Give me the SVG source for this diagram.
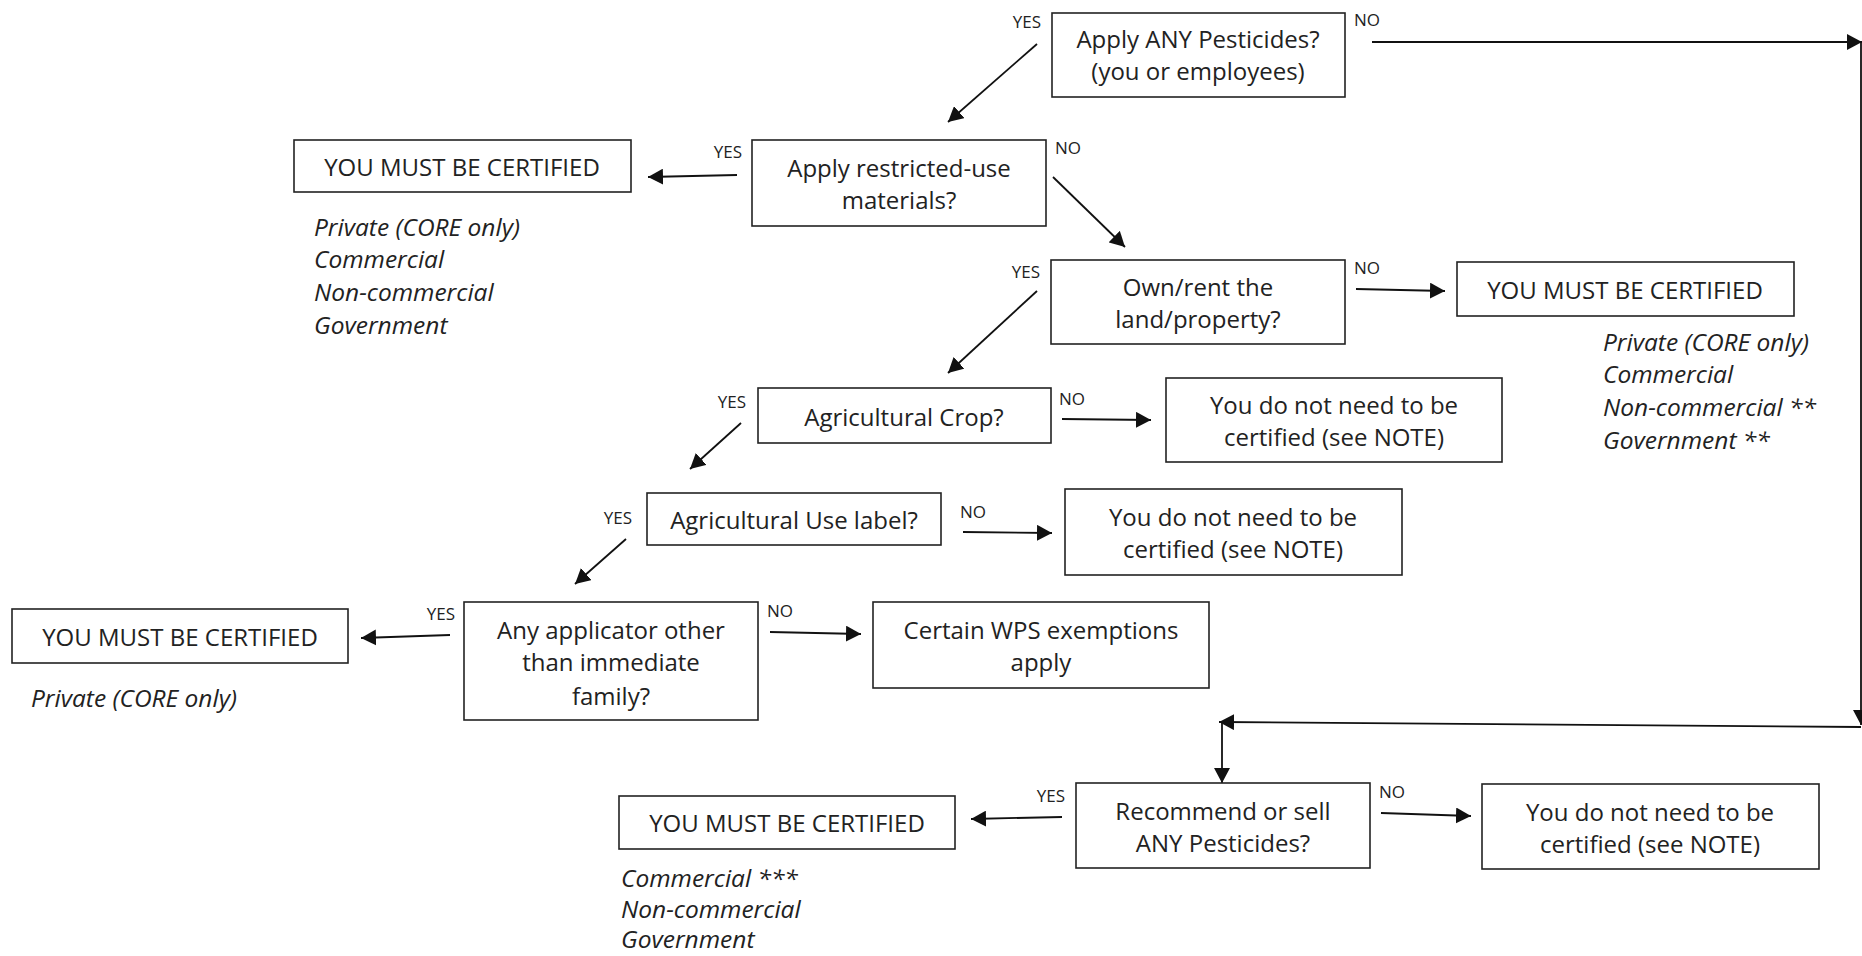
<svg xmlns="http://www.w3.org/2000/svg" width="1862" height="956" viewBox="0 0 1862 956">
<style>
.box{fill:#fff;stroke:#222;stroke-width:1.6}
.t{font-family:"Open Sans",Lato,"Liberation Sans",sans-serif;font-size:24px;fill:#222;text-anchor:middle;dominant-baseline:central}
.it{font-family:"Open Sans",Lato,"Liberation Sans",sans-serif;font-size:24.5px;font-style:italic;fill:#222;dominant-baseline:central}
.lb{font-family:"Open Sans",Lato,"Liberation Sans",sans-serif;font-size:17px;fill:#222;dominant-baseline:central}
.e{text-anchor:end}
.c{fill:none;stroke:#111;stroke-width:1.8}
</style>
<defs>
<marker id="ah" markerUnits="userSpaceOnUse" markerWidth="16" markerHeight="16" refX="15" refY="8" orient="auto">
<path d="M0,0 L15,8 L0,16 z" fill="#111"/>
</marker>
</defs>
<g id="connectors">
<line class="c" x1="1037" y1="44" x2="948" y2="122" marker-end="url(#ah)"/>
<line class="c" x1="1372" y1="42" x2="1862" y2="42" marker-end="url(#ah)"/>
<line class="c" x1="1861" y1="42" x2="1861" y2="725" marker-end="url(#ah)"/>
<line class="c" x1="1861" y1="727" x2="1219" y2="722" marker-end="url(#ah)"/>
<line class="c" x1="1222" y1="722" x2="1222" y2="783" marker-end="url(#ah)"/>
<line class="c" x1="737" y1="175" x2="648" y2="177" marker-end="url(#ah)"/>
<line class="c" x1="1053" y1="177" x2="1125" y2="247" marker-end="url(#ah)"/>
<line class="c" x1="1037" y1="291" x2="948" y2="373" marker-end="url(#ah)"/>
<line class="c" x1="1356" y1="289" x2="1445" y2="291" marker-end="url(#ah)"/>
<line class="c" x1="741" y1="423" x2="690" y2="469" marker-end="url(#ah)"/>
<line class="c" x1="1062" y1="419" x2="1151" y2="420" marker-end="url(#ah)"/>
<line class="c" x1="626" y1="539" x2="575" y2="584" marker-end="url(#ah)"/>
<line class="c" x1="963" y1="532" x2="1052" y2="533" marker-end="url(#ah)"/>
<line class="c" x1="450" y1="635" x2="361" y2="638" marker-end="url(#ah)"/>
<line class="c" x1="770" y1="632" x2="861" y2="634" marker-end="url(#ah)"/>
<line class="c" x1="1062" y1="817" x2="971" y2="819" marker-end="url(#ah)"/>
<line class="c" x1="1381" y1="813" x2="1471" y2="816" marker-end="url(#ah)"/>
</g>
<g id="labels">
<text class="lb e" x="1041" y="21">YES</text>
<text class="lb" x="1354" y="19">NO</text>
<text class="lb e" x="742" y="151">YES</text>
<text class="lb" x="1055" y="147">NO</text>
<text class="lb e" x="1040" y="271">YES</text>
<text class="lb" x="1354" y="267">NO</text>
<text class="lb e" x="746" y="401">YES</text>
<text class="lb" x="1059" y="398">NO</text>
<text class="lb e" x="632" y="517">YES</text>
<text class="lb" x="960" y="511">NO</text>
<text class="lb e" x="455" y="613">YES</text>
<text class="lb" x="767" y="610">NO</text>
<text class="lb e" x="1065" y="795">YES</text>
<text class="lb" x="1379" y="791">NO</text>
</g>
<g id="nodeA">
<rect class="box" x="1052" y="13" width="293" height="84"/>
<text class="t" x="1198" y="38">Apply ANY Pesticides?</text>
<text class="t" x="1198" y="70">(you or employees)</text>
</g>
<g id="nodeB">
<rect class="box" x="752" y="140" width="294" height="86"/>
<text class="t" x="899" y="167">Apply restricted-use</text>
<text class="t" x="899" y="199">materials?</text>
</g>
<g id="nodeC">
<rect class="box" x="294" y="140" width="337" height="52"/>
<text class="t" x="462" y="166">YOU MUST BE CERTIFIED</text>
<text class="it" x="314" y="226">Private (CORE only)</text>
<text class="it" x="314" y="258">Commercial</text>
<text class="it" x="314" y="291">Non-commercial</text>
<text class="it" x="314" y="324">Government</text>
</g>
<g id="nodeD">
<rect class="box" x="1051" y="260" width="294" height="84"/>
<text class="t" x="1198" y="286">Own/rent the</text>
<text class="t" x="1198" y="318">land/property?</text>
</g>
<g id="nodeE">
<rect class="box" x="1457" y="262" width="337" height="54"/>
<text class="t" x="1625" y="289">YOU MUST BE CERTIFIED</text>
<text class="it" x="1603" y="341">Private (CORE only)</text>
<text class="it" x="1603" y="373">Commercial</text>
<text class="it" x="1603" y="406">Non-commercial **</text>
<text class="it" x="1603" y="439">Government **</text>
</g>
<g id="nodeF">
<rect class="box" x="758" y="388" width="293" height="55"/>
<text class="t" x="904" y="416">Agricultural Crop?</text>
</g>
<g id="nodeG">
<rect class="box" x="1166" y="378" width="336" height="84"/>
<text class="t" x="1334" y="404">You do not need to be</text>
<text class="t" x="1334" y="436">certified (see NOTE)</text>
</g>
<g id="nodeH">
<rect class="box" x="647" y="493" width="294" height="52"/>
<text class="t" x="794" y="519">Agricultural Use label?</text>
</g>
<g id="nodeI">
<rect class="box" x="1065" y="489" width="337" height="86"/>
<text class="t" x="1233" y="516">You do not need to be</text>
<text class="t" x="1233" y="548">certified (see NOTE)</text>
</g>
<g id="nodeJ">
<rect class="box" x="464" y="602" width="294" height="118"/>
<text class="t" x="611" y="629">Any applicator other</text>
<text class="t" x="611" y="661">than immediate</text>
<text class="t" x="611" y="695">family?</text>
</g>
<g id="nodeK">
<rect class="box" x="12" y="609" width="336" height="54"/>
<text class="t" x="180" y="636">YOU MUST BE CERTIFIED</text>
<text class="it" x="31" y="697">Private (CORE only)</text>
</g>
<g id="nodeL">
<rect class="box" x="873" y="602" width="336" height="86"/>
<text class="t" x="1041" y="629">Certain WPS exemptions</text>
<text class="t" x="1041" y="661">apply</text>
</g>
<g id="nodeM">
<rect class="box" x="1076" y="783" width="294" height="85"/>
<text class="t" x="1223" y="810">Recommend or sell</text>
<text class="t" x="1223" y="842">ANY Pesticides?</text>
</g>
<g id="nodeN">
<rect class="box" x="619" y="796" width="336" height="53"/>
<text class="t" x="787" y="822">YOU MUST BE CERTIFIED</text>
<text class="it" x="621" y="877">Commercial ***</text>
<text class="it" x="621" y="908">Non-commercial</text>
<text class="it" x="621" y="938">Government</text>
</g>
<g id="nodeO">
<rect class="box" x="1482" y="784" width="337" height="85"/>
<text class="t" x="1650" y="811">You do not need to be</text>
<text class="t" x="1650" y="843">certified (see NOTE)</text>
</g>
</svg>
